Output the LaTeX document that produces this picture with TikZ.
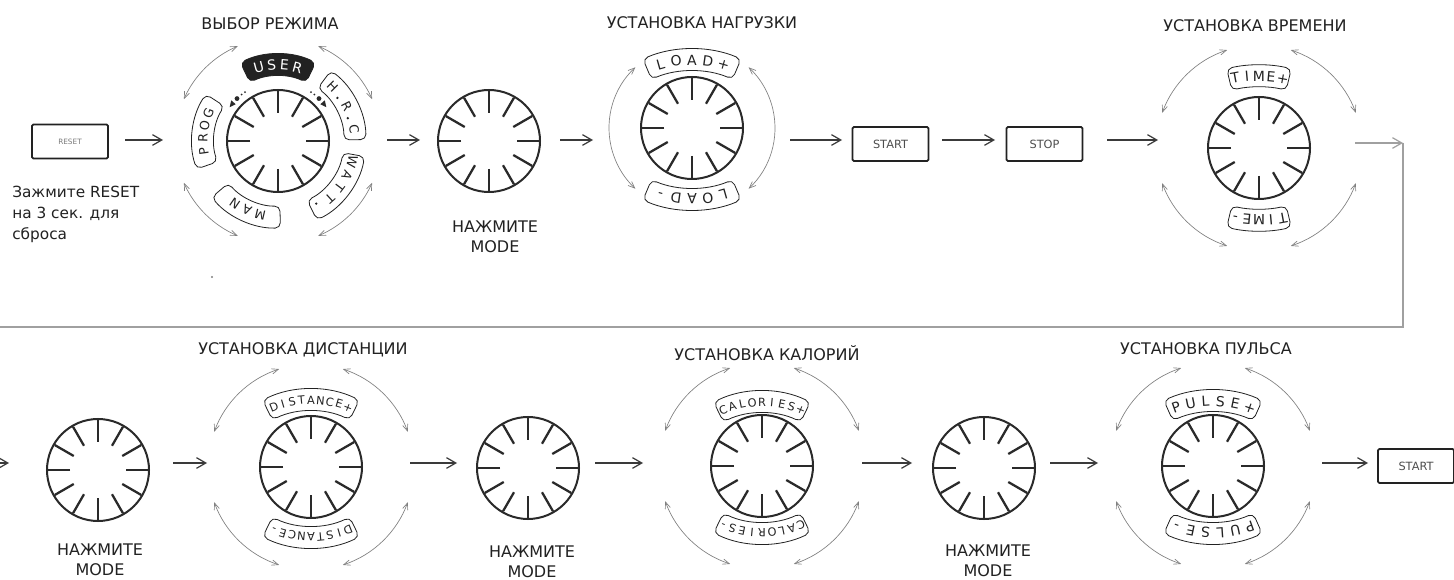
\documentclass[tikz,border=0pt]{standalone}
\usepackage{fontspec}
\setmainfont{DejaVu Sans}
\usetikzlibrary{arrows.meta,calc}

\definecolor{ink}{HTML}{222222}
\definecolor{knobc}{HTML}{2A2A2A}
\definecolor{arcc}{HTML}{808080}
\definecolor{flowc}{HTML}{3A3A3A}
\definecolor{retc}{HTML}{A0A0A0}

\tikzset{
  knobline/.style={draw=knobc, line width=1.5pt},
  tickline/.style={draw=knobc, line width=1.7pt},
  turn/.style={draw=arcc, line width=0.5pt,
    {Straight Barb[length=5pt,width=4pt]}-{Straight Barb[length=5pt,width=4pt]}},
  flow/.style={draw=flowc, line width=0.9pt, -{Straight Barb[length=7pt,width=8pt]}},
  ret/.style={draw=retc, line width=0.9pt},
  btn/.style={draw=ink, line width=1.3pt, rounded corners=1pt, minimum width=57pt,
    minimum height=25.5pt, inner sep=0pt, font=\fontsize{8.5}{9}\selectfont, text=ink!80},
  title/.style={font=\fontsize{12}{14}\selectfont, text=ink, inner sep=0pt},
  hint/.style={font=\fontsize{12}{15}\selectfont, text=ink, align=center, inner sep=0pt},
  banner/.style={draw=ink, line width=0.6pt, rounded corners=4pt},
  letter/.style={inner sep=0pt, text=ink, text depth=0pt},
  lblbig/.style={font=\fontsize{10.5}{10.5}\selectfont, text height=7.6pt},
  lblmode/.style={font=\fontsize{9.5}{9.5}\selectfont, text height=6.9pt},
  lblsmall/.style={font=\fontsize{8.5}{8.5}\selectfont, text height=6.2pt},
  lbluser/.style={font=\fontsize{10.5}{10.5}\selectfont, text height=7.6pt, fill=ink, text=white},
}

\def\dotch{.}

% knob: circle with twelve radial ticks
\newcommand\knob[3]{%
  \coordinate (#1) at (#2,#3);
  \draw[knobline] (#1) circle[radius=51];
  \foreach \t in {0,30,...,330}
    \draw[tickline] ($(#1)+(\t:28)$) -- ($(#1)+(\t:50)$);
}

% double-headed turning arcs round a knob
\newcommand\ring[3]{%
  \foreach \a/\b in {#3}
    \draw[turn] ($(#1)+(\a:#2)$) arc[start angle=\a, end angle=\b, radius=#2];
}

% curved label: centre, mid angle, distance, curvature radius, pitch, half length, count, letters, style
% a full stop in the list is drawn as a small dot on the baseline
\newcommand\curvlabel[9]{%
  \pgfmathsetmacro\crv{#3-#4}
  \coordinate (cc) at ($(#1)+(#2:\crv)$);
  \pgfmathsetmacro\hw{#6/#4*180/pi}
  \pgfmathsetmacro\st{#5/#4*180/pi}
  \pgfmathsetmacro\ra{#4+11}
  \pgfmathsetmacro\rb{#4-11}
  \pgfmathsetmacro\rd{#4-3.6}
  \pgfmathsetmacro\aa{#2+\hw}
  \pgfmathsetmacro\ab{#2-\hw}
  \draw[banner,#9] ($(cc)+(\aa:\ra)$) arc[start angle=\aa, end angle=\ab, radius=\ra]
    -- ($(cc)+(\ab:\rb)$) arc[start angle=\ab, end angle=\aa, radius=\rb] -- cycle;
  \foreach \ch [count=\i] in {#8} {
    \pgfmathsetmacro\ang{#2+\st*((#7+1)/2-\i)}
    \ifx\ch\dotch
      \fill[ink] ($(cc)+(\ang:\rd)$) circle[radius=1.3];
    \else
      \node[letter,#9, rotate=\ang-90] (ch\i) at ($(cc)+(\ang:#4)$) {\ch};
    \fi
  }
}

% straight connector between two named end points
\newcommand\link[6]{%
  \coordinate (#1s) at (#2,#4);
  \coordinate (#1e) at (#3,#5);
  \draw[#6] (#1s) -- (#1e);
}

\begin{document}
\begin{tikzpicture}[x=0.75pt,y=0.75pt]
\useasboundingbox (0,0) rectangle (1454,579);
\fill[white] (0,0) rectangle (1454,579);

% ---------- upper row ----------
\node[btn, font=\fontsize{5.5}{6}\selectfont, text=ink!60] (reset) at (70,437.5) {RESET};
\node[hint, anchor=north west, align=left, font=\fontsize{11.5}{15.75}\selectfont]
  (resetnote) at (12,393) {Зажмите RESET\\на 3 сек. для\\сброса};

% mode selector
\node[title] (tmode) at (270,555) {ВЫБОР РЕЖИМА};
\knob{M}{278}{438}
\ring{M}{103}{113/156,204/247,293/336,24/67}
\curvlabel{M}{90}{76}{76}{13}{34}{4}{U,S,E,R}{lbluser}
\curvlabel{M}{27}{77}{77}{12}{35}{5}{H,.,R,.,C}{lblmode}
\curvlabel{M}{-37}{77}{77}{14.5}{36}{5}{W,A,T,T,.}{lblmode}
\curvlabel{M}{246}{76}{76}{14}{34}{3}{M,A,N}{lblmode}
\curvlabel{M}{173}{75}{75}{13}{34}{4}{P,R,O,G}{lblmode}
% position marks beside the knob
\fill[knobc] ($(M)+(145:59)$) -- ($(M)+(139:56)$) -- ($(M)+(139:62)$) -- cycle;
\fill[knobc] ($(M)+(134:59)$) circle[radius=2.4];
\fill[knobc] ($(M)+(128:59)$) circle[radius=1];
\fill[knobc] ($(M)+(124:59)$) circle[radius=1];
\fill[knobc] ($(M)+(35:59)$) -- ($(M)+(41:56)$) -- ($(M)+(41:62)$) -- cycle;
\fill[knobc] ($(M)+(46:59)$) circle[radius=2.4];
\fill[knobc] ($(M)+(52:59)$) circle[radius=1];
\fill[knobc] ($(M)+(56:59)$) circle[radius=1];
\fill[arcc] (212,302) circle[radius=1.2];

\knob{K2}{489}{438}
\node[hint] (hint2) at (495,342) {НАЖМИТЕ\\MODE};

% load
\node[title] (tload) at (702,556) {УСТАНОВКА НАГРУЗКИ};
\knob{L}{692}{451}
\ring{L}{83}{133/227,-47/47}
\curvlabel{L}{90}{68}{115}{16}{46}{5}{L,O,A,D,+}{lblbig}
\curvlabel{L}{270}{71}{115}{16}{46}{5}{L,O,A,D,-}{lblbig}

\node[btn] (start1) at (890.5,435) {START};
\node[btn] (stop) at (1044.5,435) {STOP};

% time
\node[title] (ttime) at (1255,553) {УСТАНОВКА ВРЕМЕНИ};
\knob{T}{1259}{431}
\ring{T}{103}{108/160,200/252,288/340,20/72}
\curvlabel{T}{90}{72}{130}{12}{30}{5}{T,I,M,E,+}{lblbig}
\curvlabel{T}{270}{72}{130}{12}{30}{5}{T,I,M,E,-}{lblbig}

% ---------- lower row ----------
\knob{K3}{98}{109}
\node[hint] (hint3) at (100,19.5) {НАЖМИТЕ\\MODE};

\node[title] (tdist) at (303,229) {УСТАНОВКА ДИСТАНЦИИ};
\knob{D}{311}{112}
\ring{D}{103}{108/160,200/252,288/340,20/72}
\curvlabel{D}{90}{67}{100}{9.5}{45}{9}{D,I,S,T,A,N,C,E,+}{lblsmall}
\curvlabel{D}{270}{70}{100}{9.5}{45}{9}{D,I,S,T,A,N,C,E,-}{lblsmall}

\knob{K4}{528}{111}
\node[hint] (hint4) at (532,17) {НАЖМИТЕ\\MODE};

\node[title] (tcal) at (767,226) {УСТАНОВКА КАЛОРИЙ};
\knob{C}{762}{113}
\ring{C}{103}{108/160,200/252,288/340,20/72}
\curvlabel{C}{90}{64}{100}{10}{45}{9}{C,A,L,O,R,I,E,S,+}{lblsmall}
\curvlabel{C}{270}{67}{100}{10}{45}{9}{C,A,L,O,R,I,E,S,-}{lblsmall}

\knob{K5}{984}{111}
\node[hint] (hint5) at (988,18) {НАЖМИТЕ\\MODE};

\node[title] (tpulse) at (1206,230) {УСТАНОВКА ПУЛЬСА};
\knob{P}{1213}{113}
\ring{P}{103}{108/160,200/252,288/340,20/72}
\curvlabel{P}{90}{65}{110}{15}{46}{6}{P,U,L,S,E,+}{lblbig}
\curvlabel{P}{270}{67}{110}{15}{46}{6}{P,U,L,S,E,-}{lblbig}

\node[btn] (start2) at (1416,113) {START};

% ---------- connectors ----------
\link{f1}{125}{163}{439}{439}{flow}
\link{f2}{387}{420}{439}{439}{flow}
\link{f3}{560}{593}{439}{439}{flow}
\link{f4}{790}{842}{439}{439}{flow}
\link{f5}{942}{995}{439}{439}{flow}
\link{f6}{1107}{1158}{439}{439}{flow}
\link{f7}{1355}{1403}{436}{436}{flow, draw=retc}
\coordinate (r2) at (1403,252);
\coordinate (r3) at (-5,252);
\draw[ret] (f7e) -- (r2) -- (r3);
\link{g0}{-20}{9}{116}{116}{flow}
\link{g1}{173}{207}{116}{116}{flow}
\link{g2}{410}{457}{116}{116}{flow}
\link{g3}{595}{643}{116}{116}{flow}
\link{g4}{862}{912}{116}{116}{flow}
\link{g5}{1050}{1098}{116}{116}{flow}
\link{g6}{1322}{1368}{116}{116}{flow}
\end{tikzpicture}
\end{document}
